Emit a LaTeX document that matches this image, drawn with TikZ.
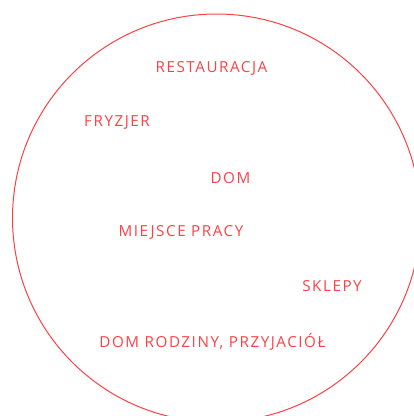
\documentclass[tikz,border=0pt]{standalone}
\usepackage{fontspec}
\setmainfont[LetterSpace=10.2]{Open Sans}
\usepackage{xcolor}
\definecolor{czerwony}{RGB}{250,66,70}

\begin{document}
\begin{tikzpicture}[
    x=1pt, y=-1pt,
    lbl/.style={font=\fontsize{15.2}{18}\selectfont, text=czerwony},
    krag/.style={draw=czerwony, line width=1pt}
]
    \useasboundingbox (0,0) rectangle (414,416);
    \begin{scope}
    \clip (0,0) rectangle (414,416);
    \draw[krag] (216.5,218) circle[radius=204];
    \end{scope}
    
    \node[lbl] (restauracja) at (211.5, 68.5) {RESTAURACJA};
    \node[lbl] (fryzjer) at (117, 122.5) {FRYZJER};
    \node[lbl] (dom) at (230.5, 178.5) {DOM};
    \node[lbl] (praca) at (181, 232) {MIEJSCE PRACY};
    \node[lbl] (sklepy) at (332, 286) {SKLEPY};
    \node[lbl] (rodzina) at (212.5, 341.5) {DOM RODZINY, PRZYJACIÓŁ};
\end{tikzpicture}
\end{document}
